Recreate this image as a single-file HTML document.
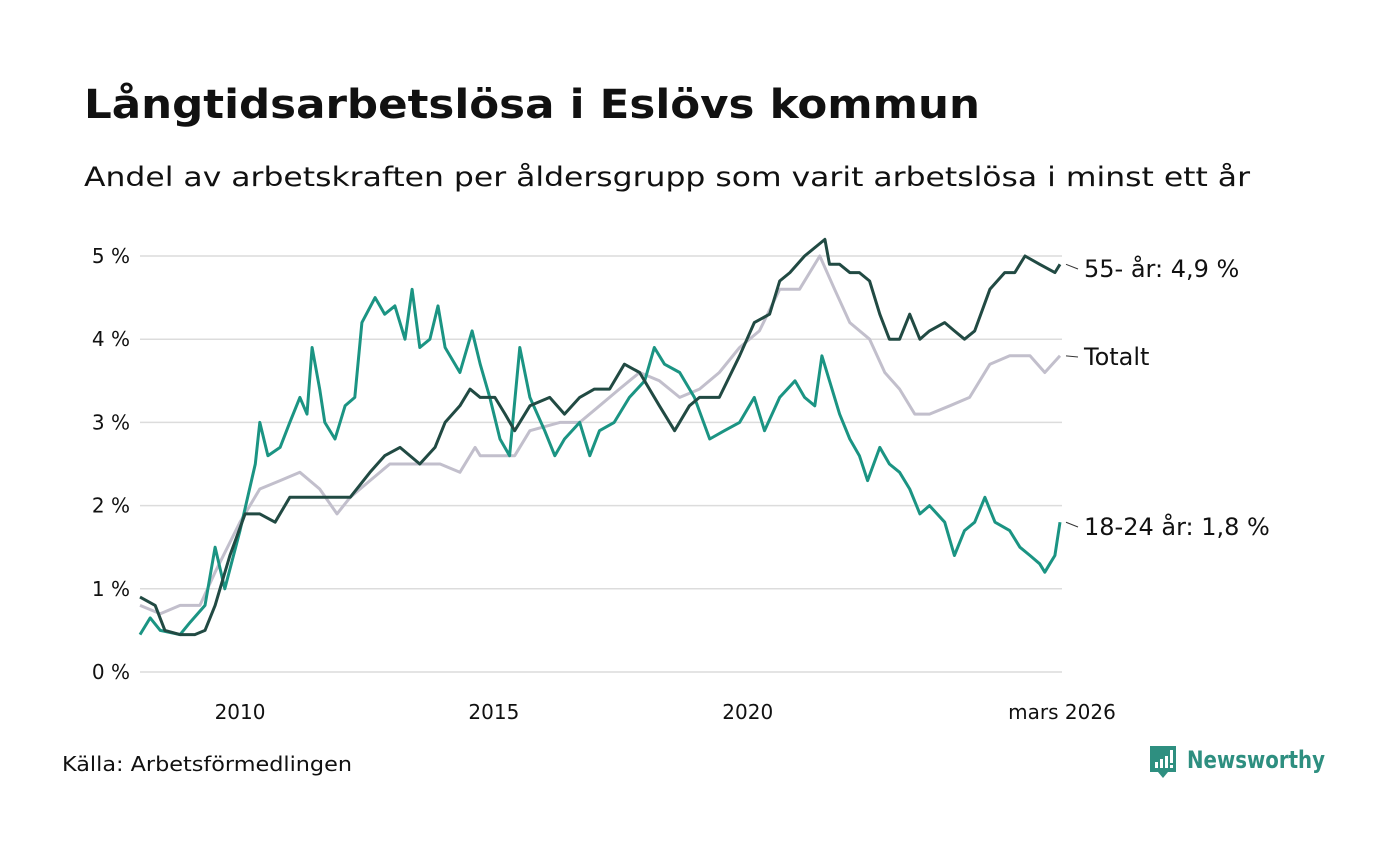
<!DOCTYPE html>
<html><head><meta charset="utf-8">
<style>
body{margin:0;background:#fff;font-family:"DejaVu Sans","Liberation Sans",sans-serif;}
svg text{font-family:"DejaVu Sans","Liberation Sans",sans-serif;}
</style></head>
<body>
<svg width="1400" height="840" viewBox="0 0 1400 840" xmlns="http://www.w3.org/2000/svg">
<text x="84" y="118" font-size="40" font-weight="bold" fill="#111" textLength="896" lengthAdjust="spacingAndGlyphs">Långtidsarbetslösa i Eslövs kommun</text>
<text x="84" y="186" font-size="27" fill="#111" textLength="1166" lengthAdjust="spacingAndGlyphs">Andel av arbetskraften per åldersgrupp som varit arbetslösa i minst ett år</text>
<g id="grid"></g>
<g id="ylabels"></g>
<g id="xlabels"></g>
<g id="lines"></g>
<g id="endlabels"></g>
<text x="62" y="771" font-size="20" fill="#111" textLength="290" lengthAdjust="spacingAndGlyphs">Källa: Arbetsförmedlingen</text>
<g>
<path d="M1150 746 h26 v26 h-8 l-5 6 l-5 -6 h-8 z" fill="#2e8f80"/>
<rect x="1155" y="762" width="3" height="6" fill="#fff"/><rect x="1160" y="759" width="3" height="9" fill="#fff"/><rect x="1165" y="756" width="3" height="12" fill="#fff"/><rect x="1170" y="750" width="3" height="13" fill="#fff"/><rect x="1170" y="765" width="3" height="3" fill="#fff"/>
<text x="1187" y="768" font-size="24" font-weight="bold" fill="#2e8f80" textLength="138" lengthAdjust="spacingAndGlyphs">Newsworthy</text>
</g>
</svg>
<script>
const yTicks=[0,1,2,3,4,5];
const yTickLabels=["0 %","1 %","2 %","3 %","4 %","5 %"];
const xTicks=[2010,2015,2020,2026.15];
const xTickLabels=["2010","2015","2020","mars 2026"];
const totYears=[2008.03,2008.43,2008.82,2009.21,2009.51,2010.00,2010.39,2010.79,2011.18,2011.57,2011.91,2012.17,2012.56,2012.95,2013.54,2013.94,2014.33,2014.63,2014.73,2015.41,2015.71,2016.30,2016.69,2017.08,2017.47,2017.87,2018.26,2018.66,2019.05,2019.44,2019.84,2020.23,2020.63,2021.02,2021.42,2021.71,2022.01,2022.40,2022.70,2022.99,2023.29,2023.58,2023.98,2024.37,2024.77,2025.16,2025.56,2025.85,2026.15];
const totVals=[0.8,0.7,0.8,0.8,1.2,1.8,2.2,2.3,2.4,2.2,1.9,2.1,2.3,2.5,2.5,2.5,2.4,2.7,2.6,2.6,2.9,3.0,3.0,3.2,3.4,3.6,3.5,3.3,3.4,3.6,3.9,4.1,4.6,4.6,5.0,4.6,4.2,4.0,3.6,3.4,3.1,3.1,3.2,3.3,3.7,3.8,3.8,3.6,3.8];
const oldYears=[2008.03,2008.33,2008.52,2008.82,2009.11,2009.31,2009.51,2009.80,2010.10,2010.39,2010.69,2010.98,2011.38,2011.77,2012.17,2012.56,2012.85,2013.15,2013.54,2013.84,2014.04,2014.33,2014.53,2014.73,2015.02,2015.22,2015.41,2015.71,2016.10,2016.39,2016.69,2016.98,2017.28,2017.57,2017.87,2018.26,2018.56,2018.85,2019.05,2019.44,2019.84,2020.13,2020.43,2020.63,2020.83,2021.12,2021.52,2021.61,2021.81,2022.01,2022.20,2022.40,2022.60,2022.79,2022.99,2023.19,2023.39,2023.58,2023.88,2024.07,2024.27,2024.47,2024.77,2025.06,2025.26,2025.46,2025.75,2026.05,2026.15];
const oldVals=[0.9,0.8,0.5,0.45,0.45,0.5,0.8,1.4,1.9,1.9,1.8,2.1,2.1,2.1,2.1,2.4,2.6,2.7,2.5,2.7,3.0,3.2,3.4,3.3,3.3,3.1,2.9,3.2,3.3,3.1,3.3,3.4,3.4,3.7,3.6,3.2,2.9,3.2,3.3,3.3,3.8,4.2,4.3,4.7,4.8,5.0,5.2,4.9,4.9,4.8,4.8,4.7,4.3,4.0,4.0,4.3,4.0,4.1,4.2,4.1,4.0,4.1,4.6,4.8,4.8,5.0,4.9,4.8,4.9];
const youngYears=[2008.03,2008.23,2008.43,2008.82,2009.02,2009.31,2009.51,2009.70,2010.00,2010.30,2010.39,2010.55,2010.79,2010.98,2011.18,2011.32,2011.42,2011.57,2011.67,2011.87,2012.07,2012.26,2012.40,2012.66,2012.85,2013.05,2013.25,2013.39,2013.54,2013.74,2013.90,2014.04,2014.33,2014.57,2014.73,2014.92,2015.12,2015.31,2015.51,2015.71,2016.00,2016.20,2016.39,2016.69,2016.89,2017.08,2017.37,2017.67,2017.97,2018.16,2018.36,2018.66,2018.95,2019.25,2019.54,2019.84,2020.13,2020.33,2020.63,2020.93,2021.12,2021.32,2021.46,2021.61,2021.81,2022.01,2022.20,2022.36,2022.60,2022.79,2022.99,2023.19,2023.39,2023.58,2023.88,2024.07,2024.27,2024.47,2024.67,2024.87,2025.16,2025.36,2025.56,2025.75,2025.85,2025.95,2026.05,2026.15];
const youngVals=[0.45,0.65,0.5,0.45,0.6,0.8,1.5,1.0,1.7,2.5,3.0,2.6,2.7,3.0,3.3,3.1,3.9,3.4,3.0,2.8,3.2,3.3,4.2,4.5,4.3,4.4,4.0,4.6,3.9,4.0,4.4,3.9,3.6,4.1,3.7,3.3,2.8,2.6,3.9,3.3,2.9,2.6,2.8,3.0,2.6,2.9,3.0,3.3,3.5,3.9,3.7,3.6,3.3,2.8,2.9,3.0,3.3,2.9,3.3,3.5,3.3,3.2,3.8,3.5,3.1,2.8,2.6,2.3,2.7,2.5,2.4,2.2,1.9,2.0,1.8,1.4,1.7,1.8,2.1,1.8,1.7,1.5,1.4,1.3,1.2,1.3,1.4,1.8];
const NS="http://www.w3.org/2000/svg";
const x0=140,x1=1060,yr0=2008.0,yr1=2026.15;
function xs(t){return x0+(t-yr0-0.03)/(yr1-yr0-0.03)*(x1-x0);}
function ys(v){return 672-v*83.2;}
function mk(tag,parent,attrs){const e=document.createElementNS(NS,tag);for(const k in attrs)e.setAttribute(k,attrs[k]);document.getElementById(parent).appendChild(e);return e;}
yTicks.forEach((v,i)=>{
 const l=mk('line','grid',{x1:140,x2:1062,y1:ys(v),y2:ys(v),stroke:'#dcdcdc','stroke-width':1.5});
 
 
 const t=mk('text','ylabels',{x:130,y:ys(v)+7,'text-anchor':'end','font-size':20,fill:'#111'});
 t.textContent=yTickLabels[i];
 
 
});
xTicks.forEach((v,i)=>{
 const t=mk('text','xlabels',{x:i==3?xs(v)+2:xs(v),y:719,'text-anchor':'middle','font-size':20,fill:'#111'});
 t.textContent=xTickLabels[i];
 
 
});
function line(yrs,vals,color,name){
 const d=yrs.map((t,i)=>(i?'L':'M')+xs(t).toFixed(1)+' '+ys(vals[i]).toFixed(1)).join(' ');
 const p=mk('path','lines',{d:d,fill:'none',stroke:color,'stroke-width':3,'stroke-linejoin':'round'});
 
 
}
line(totYears,totVals,'#c2bfcc','line-totalt');
line(youngYears,youngVals,'#1b9483','line-18-24');
line(oldYears,oldVals,'#214a43','line-55');
function endLabel(v,ty,txt,name){
 mk('line','endlabels',{x1:1066,x2:1078,y1:ys(v),y2:ty-8,stroke:'#333','stroke-width':1});
 const t=mk('text','endlabels',{x:1084,y:ty,'font-size':24,fill:'#111'});
 t.textContent=txt;
 
 
}
endLabel(oldVals[oldVals.length-1],277,'55- år: 4,9 %','label-55');
endLabel(totVals[totVals.length-1],365,'Totalt','label-totalt');
endLabel(youngVals[youngVals.length-1],535,'18-24 år: 1,8 %','label-18-24');
</script>
</body></html>
